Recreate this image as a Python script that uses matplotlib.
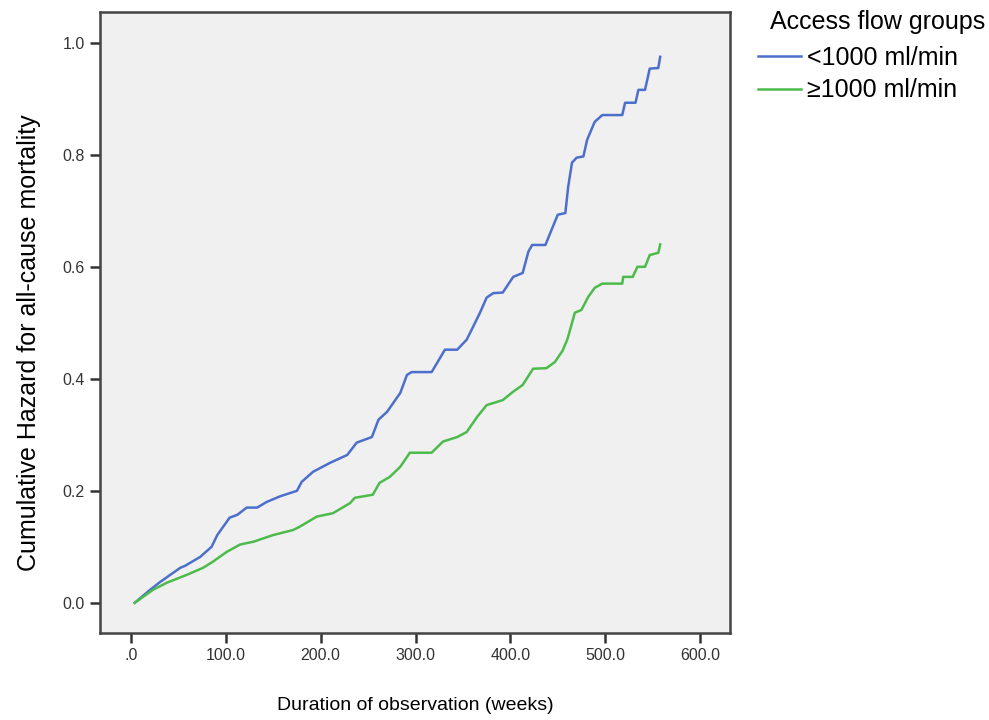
import matplotlib
matplotlib.use("Agg")
import matplotlib.pyplot as plt

plt.rcParams['font.family'] = ['Liberation Sans', 'DejaVu Sans']

# cumulative hazard, <1000 ml/min (weeks, hazard)
low_weeks = [4, 20, 31, 52, 57, 73, 85, 91, 104, 112, 122, 133, 143, 157, 175, 180,
             192, 210, 228, 238, 254, 261, 270, 284, 291, 296, 317, 323, 331, 344,
             354, 359, 368, 375, 382, 392, 403, 413, 419, 423, 437, 442, 450, 458,
             461, 465, 470, 477, 481, 489, 497, 518, 521, 532, 535, 542, 547, 556, 558]
low_hazard = [0.0, 0.023, 0.0375, 0.0625, 0.066, 0.082, 0.10, 0.121, 0.152, 0.157, 0.17, 0.17,
              0.18, 0.19, 0.20, 0.216, 0.234, 0.25, 0.264, 0.286, 0.296, 0.327, 0.341,
              0.375, 0.407, 0.412, 0.412, 0.429, 0.452, 0.452, 0.47, 0.487, 0.518, 0.545,
              0.553, 0.554, 0.582, 0.589, 0.627, 0.639, 0.639, 0.66, 0.693, 0.696, 0.743,
              0.786, 0.795, 0.797, 0.827, 0.859, 0.871, 0.871, 0.893, 0.893, 0.916, 0.916,
              0.954, 0.955, 0.975]

# cumulative hazard, >=1000 ml/min
high_weeks = [4, 23, 38, 59, 76, 86, 101, 115, 129, 150, 171, 178, 196, 213, 231, 236,
              255, 262, 273, 284, 294, 317, 329, 344, 354, 365, 375, 392, 403, 413, 424,
              438, 447, 455, 460, 463, 468, 475, 482, 489, 497, 518, 519, 529, 534, 542,
              547, 556, 558]
high_hazard = [0.0, 0.023, 0.036, 0.05, 0.0625, 0.073, 0.091, 0.104, 0.109, 0.121, 0.13,
               0.136, 0.154, 0.16, 0.178, 0.1875, 0.193, 0.214, 0.225, 0.243, 0.268, 0.268,
               0.288, 0.296, 0.305, 0.332, 0.353, 0.362, 0.377, 0.389, 0.418, 0.419, 0.43,
               0.45, 0.47, 0.4875, 0.518, 0.523, 0.546, 0.5625, 0.57, 0.57, 0.582, 0.582,
               0.6, 0.6, 0.621, 0.625, 0.64]

xticks = [0, 100, 200, 300, 400, 500, 600]
xtick_labels = ['.0', '100.0', '200.0', '300.0', '400.0', '500.0', '600.0']
yticks = [0.0, 0.2, 0.4, 0.6, 0.8, 1.0]

fig = plt.figure(figsize=(9.89, 7.2), dpi=100)
ax = fig.add_axes([0.1011, 0.1208, 0.637, 0.8625])
ax.set_facecolor('#f0f0f0')

ax.plot(low_weeks, low_hazard, color='#4d6fcc', lw=1.8, label='<1000 ml/min')
ax.plot(high_weeks, high_hazard, color='#4cbb4c', lw=1.8, label='\u22651000 ml/min')

ax.set_xlim(-32.7, 631.6)
ax.set_ylim(-0.054, 1.055)
ax.set_xticks(xticks)
ax.set_xticklabels(xtick_labels)
ax.set_yticks(yticks)
ax.set_yticklabels(['%.1f' % v for v in yticks])
ax.tick_params(direction='out', length=7, width=1.8, color='#333333',
               labelsize=11.5, labelcolor='#333333', pad=4)

for s in ax.spines.values():
    s.set_linewidth(1.8)
    s.set_color('#444444')

ax.set_xlabel('Duration of observation (weeks)', fontsize=14, labelpad=24)
ax.set_ylabel('Cumulative Hazard for all-cause mortality', fontsize=18)
ax.yaxis.set_label_coords(-0.094, 0.467)

# legend title sits a bit right of the handles, so draw it apart
fig.text(770 / 989, 1 - 22 / 720, 'Access flow groups', fontsize=18, ha='left', va='center')
fig.legend(loc='upper left', bbox_to_anchor=(758 / 989, 1 - 46 / 720), frameon=False,
           fontsize=18, handlelength=1.7, handletextpad=0.25, labelspacing=0.33,
           borderaxespad=0, borderpad=0)

fig.savefig('out.png', dpi=100)
